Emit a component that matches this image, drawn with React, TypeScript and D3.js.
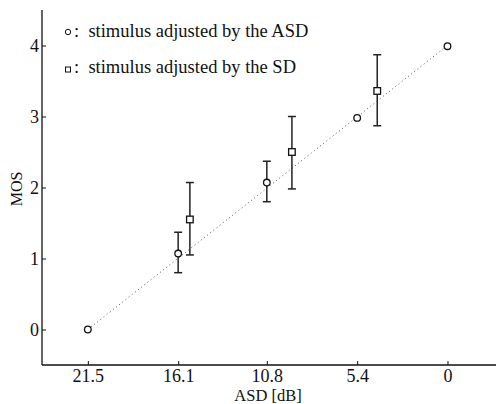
import * as React from "react";
import * as d3 from "d3";

const xTicks = [21.5, 16.1, 10.8, 5.4, 0];
const yTicks = [0, 1, 2, 3, 4];

// stimulus adjusted by the ASD (circles)
const asdX = [21.5, 16.1, 10.8, 5.4, 0];
const asdMos = [0, 1.07, 2.07, 2.98, 3.99];
const asdLow = [null, 0.8, 1.8, null, null];
const asdHigh = [null, 1.37, 2.37, null, null];

// stimulus adjusted by the SD (squares)
const sdX = [15.4, 9.3, 4.2];
const sdMos = [1.55, 2.5, 3.36];
const sdLow = [1.05, 1.98, 2.87];
const sdHigh = [2.07, 3.0, 3.87];

const legendLabels = [
  ":  stimulus adjusted by the ASD",
  ":  stimulus adjusted by the SD",
];

const font = "Liberation Serif, Times New Roman, DejaVu Serif, serif";

function drawChart(svgRef) {
  const width = 500;
  const height = 404;
  const left = 42;
  const bottom = 365;

  const x = d3.scaleLinear().domain([24.24, -2.9]).range([left, 496]);
  const y = d3.scaleLinear().domain([-0.5, 4.5]).range([bottom, 10]);

  const svg = d3.select(svgRef.current).attr("width", width).attr("height", height);
  svg.selectAll("*").remove();

  // axes
  const yAxis = svg
    .append("g")
    .attr("transform", `translate(${left},0)`)
    .call(d3.axisRight(y).tickValues(yTicks).tickSize(4).tickFormat(d3.format("d")));
  yAxis.attr("font-family", null).attr("font-size", null);
  yAxis.select(".domain").attr("d", `M0,${bottom}V10`).attr("stroke", "#111").attr("stroke-width", 1.3);
  yAxis.selectAll(".tick line").attr("stroke", "#111");
  yAxis
    .selectAll(".tick text")
    .attr("x", -3)
    .attr("dy", "0.35em")
    .attr("text-anchor", "end")
    .style("font-family", font)
    .style("font-size", "18px")
    .attr("fill", "#111");

  const xAxis = svg
    .append("g")
    .attr("transform", `translate(0,${bottom})`)
    .call(d3.axisTop(x).tickValues(xTicks).tickSize(4).tickFormat((d) => String(d)));
  xAxis.attr("font-family", null).attr("font-size", null);
  xAxis.select(".domain").attr("d", `M${left},0H496`).attr("stroke", "#111").attr("stroke-width", 1.3);
  xAxis.selectAll(".tick line").attr("stroke", "#111");
  xAxis
    .selectAll(".tick text")
    .attr("y", 17)
    .attr("dy", 0)
    .style("font-family", font)
    .style("font-size", "18px")
    .attr("fill", "#111");

  // dotted reference line
  const line = d3
    .line()
    .x((d) => x(d[0]))
    .y((d) => y(d[1]));
  svg
    .append("path")
    .attr("d", line([[asdX[0], asdMos[0]], [asdX[4], 4]]))
    .attr("fill", "none")
    .attr("stroke", "#555")
    .attr("stroke-width", 1)
    .attr("stroke-dasharray", "1,3");

  // error bars
  const errs = [];
  asdX.forEach((v, i) => {
    if (asdLow[i] != null) errs.push({ x: v, lo: asdLow[i], hi: asdHigh[i] });
  });
  sdX.forEach((v, i) => errs.push({ x: v, lo: sdLow[i], hi: sdHigh[i] }));

  const eg = svg.append("g").attr("stroke", "#222").attr("stroke-width", 1.5);
  errs.forEach((e) => {
    const cx = x(e.x);
    eg.append("line").attr("x1", cx).attr("x2", cx).attr("y1", y(e.hi)).attr("y2", y(e.lo));
    eg.append("line").attr("x1", cx - 4).attr("x2", cx + 4).attr("y1", y(e.hi)).attr("y2", y(e.hi));
    eg.append("line").attr("x1", cx - 4).attr("x2", cx + 4).attr("y1", y(e.lo)).attr("y2", y(e.lo));
  });

  // markers
  svg
    .selectAll(".circ")
    .data(asdX)
    .enter()
    .append("circle")
    .attr("cx", (d) => x(d))
    .attr("cy", (d, i) => y(asdMos[i]))
    .attr("r", 3.3)
    .attr("fill", "white")
    .attr("stroke", "#111")
    .attr("stroke-width", 1.3);

  svg
    .selectAll(".sq")
    .data(sdX)
    .enter()
    .append("rect")
    .attr("x", (d) => x(d) - 3.3)
    .attr("y", (d, i) => y(sdMos[i]) - 3.3)
    .attr("width", 6.6)
    .attr("height", 6.6)
    .attr("fill", "white")
    .attr("stroke", "#111")
    .attr("stroke-width", 1.3);

  // legend
  svg.append("circle").attr("cx", 68).attr("cy", 32).attr("r", 2.7).attr("fill", "none").attr("stroke", "#111");
  svg.append("rect").attr("x", 65.5).attr("y", 67).attr("width", 5).attr("height", 5).attr("fill", "none").attr("stroke", "#111");
  svg
    .selectAll(".leg")
    .data(legendLabels)
    .enter()
    .append("text")
    .attr("x", 74)
    .attr("y", (d, i) => 37 + i * 36)
    .style("font-family", font)
    .style("font-size", "18.5px")
    .style("white-space", "pre")
    .attr("fill", "#111")
    .text((d) => d);

  // axis labels
  svg
    .append("text")
    .attr("x", 268)
    .attr("y", 401)
    .attr("text-anchor", "middle")
    .style("font-family", font)
    .style("font-size", "16.5px")
    .attr("fill", "#111")
    .text("ASD [dB]");
  svg
    .append("text")
    .attr("transform", "translate(22,189) rotate(-90)")
    .attr("text-anchor", "middle")
    .style("font-family", font)
    .style("font-size", "16px")
    .attr("fill", "#111")
    .text("MOS");
}

const App = () => {
  const svgRef = React.useRef(null);
  React.useEffect(() => {
    drawChart(svgRef);
  }, [svgRef]);
  return (
    <div style={{ position: "absolute", left: 0, top: 0 }}>
      <svg ref={svgRef} style={{ display: "block" }} />
    </div>
  );
};

export default App;
